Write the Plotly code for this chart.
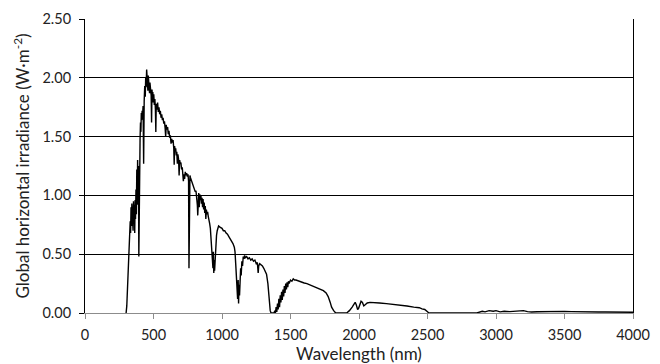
import plotly.graph_objects as go

wavelength_nm = [
    295, 300, 305, 310, 315, 320, 325, 330, 333, 336, 339, 342, 345, 348, 351, 354, 357, 360, 363, 366,
    369, 372, 375, 378, 381, 384, 387, 390, 393, 396, 399, 402, 405, 408, 411, 414, 417, 420, 424, 428,
    432, 436, 440, 443, 446, 450, 453, 456, 459, 462, 465, 468, 471, 474, 477, 480, 483, 486, 489, 492,
    495, 498, 502, 506, 510, 514, 517, 520, 525, 530, 535, 540, 545, 550, 555, 560, 565, 570, 575, 580,
    585, 589, 593, 598, 603, 608, 613, 618, 623, 628, 633, 638, 643, 648, 651, 654, 658, 662, 666, 670,
    674, 678, 683, 687, 691, 695, 700, 705, 710, 714, 718, 722, 727, 732, 737, 742, 747, 752, 756, 759,
    762, 766, 770, 775, 780, 785, 790, 795, 800, 805, 810, 815, 820, 823, 826, 830, 834, 838, 842, 846,
    850, 854, 858, 862, 866, 870, 874, 878, 882, 886, 890, 895, 900, 905, 910, 915, 920, 925, 930, 934,
    937, 940, 943, 946, 950, 955, 960, 965, 970, 975, 985, 1000, 1010, 1020, 1030, 1040, 1050, 1060, 1070, 1080,
    1090, 1095, 1100, 1105, 1110, 1114, 1118, 1121, 1124, 1128, 1132, 1136, 1140, 1145, 1150, 1155, 1160, 1165, 1170, 1180,
    1190, 1200, 1210, 1220, 1230, 1240, 1250, 1258, 1264, 1268, 1275, 1285, 1295, 1305, 1315, 1325, 1335, 1345, 1352, 1358,
    1380, 1385, 1390, 1395, 1400, 1405, 1410, 1415, 1420, 1425, 1430, 1435, 1440, 1445, 1450, 1455, 1460, 1465, 1470, 1475,
    1480, 1485, 1490, 1500, 1510, 1520, 1530, 1540, 1560, 1580, 1600, 1620, 1640, 1660, 1680, 1700, 1720, 1740, 1760, 1775,
    1790, 1800, 1815, 1830, 1910, 1930, 1950, 1965, 1972, 1980, 1990, 1997, 2005, 2015, 2025, 2035, 2045, 2060, 2080, 2100,
    2150, 2200, 2250, 2300, 2350, 2400, 2440, 2460, 2480, 2500, 2510, 2860, 2880, 2900, 2920, 2950, 2980, 3000, 3030, 3060,
    3100, 3150, 3200, 3230, 3260, 3300, 3350, 3400, 3450, 3500, 3550, 3600, 3650, 3700, 3750, 3800, 3850, 3900, 3950, 4000,
]

irradiance = [
    0.0, 0.0, 0.06, 0.20, 0.35, 0.50, 0.62, 0.78, 0.68, 0.90, 0.74, 0.93, 0.79, 0.88, 0.70, 0.95, 0.76, 0.92, 0.68, 0.96,
    0.80, 1.05, 0.84, 1.22, 0.92, 1.30, 1.08, 1.25, 0.48, 1.05, 0.62, 1.48, 1.62, 1.54, 1.70, 1.64, 1.72, 1.67, 1.76, 1.27,
    1.80, 1.93, 1.84, 2.00, 1.92, 2.07, 1.97, 2.04, 1.89, 2.02, 1.93, 1.99, 1.87, 1.96, 1.89, 1.94, 1.85, 1.62, 1.90, 1.84,
    1.88, 1.79, 1.86, 1.77, 1.82, 1.73, 1.54, 1.78, 1.73, 1.79, 1.71, 1.75, 1.69, 1.72, 1.66, 1.69, 1.64, 1.66, 1.61, 1.63,
    1.57, 1.50, 1.60, 1.56, 1.58, 1.52, 1.55, 1.49, 1.51, 1.44, 1.48, 1.45, 1.47, 1.40, 1.26, 1.42, 1.38, 1.40, 1.34, 1.37,
    1.27, 1.35, 1.31, 1.17, 1.30, 1.27, 1.28, 1.22, 1.24, 1.16, 1.12, 1.18, 1.14, 1.20, 1.17, 1.19, 1.16, 1.18, 1.12, 0.38,
    0.80, 1.17, 1.15, 1.13, 1.12, 1.10, 1.08, 1.06, 1.05, 1.03, 1.04, 1.00, 0.92, 0.83, 0.95, 1.02, 0.90, 1.01, 0.96, 1.00,
    0.93, 0.98, 0.90, 0.97, 0.88, 0.94, 0.85, 0.91, 0.80, 0.88, 0.84, 0.86, 0.82, 0.80, 0.76, 0.72, 0.65, 0.58, 0.46, 0.38,
    0.52, 0.34, 0.45, 0.36, 0.50, 0.58, 0.66, 0.70, 0.74, 0.74, 0.73, 0.72, 0.70, 0.70, 0.68, 0.67, 0.65, 0.63, 0.62, 0.59,
    0.56, 0.52, 0.42, 0.30, 0.22, 0.12, 0.28, 0.08, 0.24, 0.15, 0.30, 0.38, 0.32, 0.44, 0.40, 0.48, 0.46, 0.49, 0.47, 0.48,
    0.46, 0.47, 0.45, 0.46, 0.44, 0.45, 0.42, 0.43, 0.34, 0.40, 0.42, 0.41, 0.40, 0.38, 0.36, 0.33, 0.25, 0.10, 0.02, 0.0,
    0.0, 0.02, 0.0, 0.05, 0.01, 0.08, 0.03, 0.12, 0.05, 0.15, 0.09, 0.18, 0.11, 0.20, 0.14, 0.23, 0.17, 0.25, 0.20, 0.26,
    0.22, 0.27, 0.25, 0.28, 0.27, 0.29, 0.28, 0.28, 0.27, 0.26, 0.255, 0.25, 0.24, 0.23, 0.225, 0.21, 0.20, 0.19, 0.17, 0.14,
    0.09, 0.05, 0.02, 0.0, 0.0, 0.02, 0.05, 0.08, 0.09, 0.07, 0.03, 0.04, 0.07, 0.10, 0.09, 0.06, 0.07, 0.085, 0.09, 0.09,
    0.085, 0.08, 0.075, 0.065, 0.06, 0.05, 0.045, 0.035, 0.03, 0.01, 0.0, 0.0, 0.01, 0.015, 0.01, 0.02, 0.015, 0.02, 0.01, 0.015,
    0.012, 0.018, 0.02, 0.012, 0.008, 0.01, 0.012, 0.01, 0.012, 0.014, 0.012, 0.01, 0.009, 0.01, 0.008, 0.009, 0.007, 0.008, 0.006, 0.006,
]

x_ticks = [0, 500, 1000, 1500, 2000, 2500, 3000, 3500, 4000]
y_ticks = [0.0, 0.5, 1.0, 1.5, 2.0, 2.5]

font = "Lato, 'Open Sans', sans-serif"

fig = go.Figure()
fig.add_trace(go.Scatter(
    x=wavelength_nm, y=irradiance, mode="lines",
    line=dict(color="black", width=1.4), showlegend=False, hoverinfo="skip",
))

# page body has an 8px default margin, so the figure is sized to fill the rest of the window
fig.update_layout(
    width=652, height=356,
    margin=dict(l=77, r=27, t=11, b=51),
    paper_bgcolor="white", plot_bgcolor="white",
    font=dict(family=font, size=14.5, color="#222222"),
)
fig.update_xaxes(
    range=[0, 4000], tickvals=x_ticks, ticktext=[str(v) for v in x_ticks],
    showgrid=False, zeroline=False, automargin=False,
    showline=True, linecolor="#8c8c8c", linewidth=1,
    ticks="outside", ticklen=5, tickcolor="#8c8c8c", ticklabelstandoff=4,
    title=dict(text="Wavelength (nm)", font=dict(size=17, family=font, color="#222222"), standoff=6),
)
fig.update_yaxes(
    range=[0, 2.5], tickvals=y_ticks, tickformat=".2f",
    showgrid=True, gridcolor="black", gridwidth=1, zeroline=False, automargin=False,
    showline=True, linecolor="black", linewidth=1, mirror=True,
    ticks="outside", ticklen=5, tickcolor="black", ticklabelstandoff=5,
    title=dict(text="Global horizontal irradiance (W·m<sup>-2</sup>)", font=dict(size=17, family=font, color="#222222"), standoff=8),
)

fig.write_html("out.html")
